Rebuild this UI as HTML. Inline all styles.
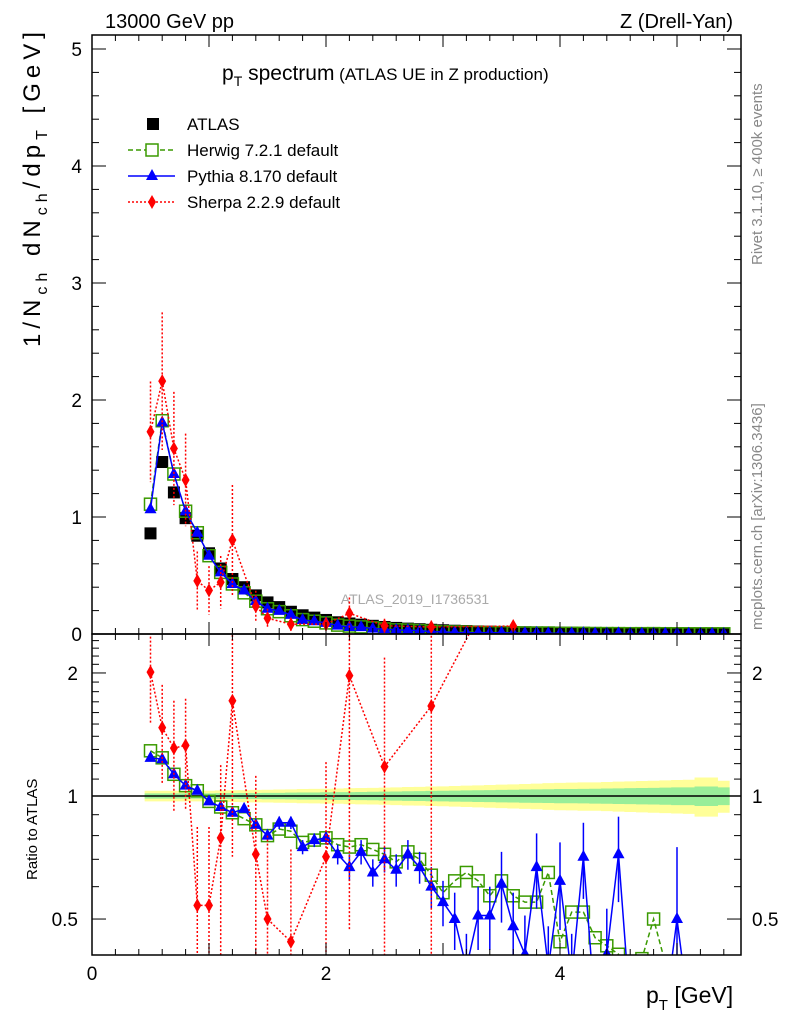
<!DOCTYPE html>
<html><head><meta charset="utf-8"><style>
html,body{margin:0;padding:0;background:#fff;overflow:hidden;width:786px;height:1024px}
svg{display:block;font-family:"Liberation Sans",Arial,sans-serif}
</style></head><body>
<svg id="c" width="786" height="1024" viewBox="0 0 786 1024">
<text x="105" y="28" font-size="20">13000 GeV pp</text>
<text x="733" y="28" font-size="20" text-anchor="end">Z (Drell-Yan)</text>
<text x="222" y="80" font-size="21">p<tspan font-size="14" dy="6">T</tspan><tspan dy="-6"> spectrum</tspan><tspan font-size="17"> (ATLAS UE in Z production)</tspan></text>
<text transform="translate(762,265) rotate(-90)" font-size="15" fill="#888">Rivet 3.1.10, ≥ 400k events</text>
<text transform="translate(762,630) rotate(-90)" font-size="15" fill="#888">mcplots.cern.ch [arXiv:1306.3436]</text>
<text transform="translate(40,347) rotate(-90)" font-size="24" textLength="315" lengthAdjust="spacing">1/N<tspan font-size="16" dy="7">ch</tspan><tspan dy="-7"> dN</tspan><tspan font-size="16" dy="7">ch</tspan><tspan dy="-7">/dp</tspan><tspan font-size="16" dy="7">T</tspan><tspan dy="-7"> [GeV]</tspan></text>
<text transform="translate(37,880) rotate(-90)" font-size="15">Ratio to ATLAS</text>
<text x="646" y="1003" font-size="23">p<tspan font-size="15" dy="7">T</tspan><tspan dy="-7"> [GeV]</tspan></text>
<text x="415" y="604" font-size="14" fill="#aaa" text-anchor="middle">ATLAS_2019_I1736531</text>
<g id="legend">
<rect x="147" y="118" width="12" height="12" fill="#000"/>
<text x="187" y="130" font-size="17">ATLAS</text>
<line x1="128" y1="150" x2="175" y2="150" stroke="#3a9a00" stroke-width="1.5" stroke-dasharray="5,3"/>
<rect x="146" y="144" width="12" height="12" fill="#fff" stroke="#3a9a00" stroke-width="1.5"/>
<text x="187" y="156" font-size="17">Herwig 7.2.1 default</text>
<line x1="128" y1="176" x2="175" y2="176" stroke="#00f" stroke-width="1.5"/>
<polygon points="152,169 158,180 146,180" fill="#00f"/>
<text x="187" y="182" font-size="17">Pythia 8.170 default</text>
<line x1="128" y1="202" x2="175" y2="202" stroke="#f00" stroke-width="1.5" stroke-dasharray="2,2"/>
<polygon points="152,195 156,202 152,209 148,202" fill="#f00"/>
<text x="187" y="208" font-size="17">Sherpa 2.2.9 default</text>
</g>
<g id="plot"></g>
</svg>
<script>
const xCenters=[0.5,0.6,0.7,0.8,0.9,1.0,1.1,1.2,1.3,1.4,1.5,1.6,1.7,1.8,1.9,2.0,2.1,2.2,2.3,2.4,2.5,2.6,2.7,2.8,2.9,3.0,3.1,3.2,3.3,3.4,3.5,3.6,3.7,3.8,3.9,4.0,4.1,4.2,4.3,4.4,4.5,4.6,4.7,4.8,4.9,5.0,5.1,5.2,5.3,5.4];
const atlasVals=[0.86,1.47,1.21,0.99,0.84,0.69,0.56,0.47,0.40,0.33,0.27,0.23,0.19,0.16,0.14,0.12,0.10,0.09,0.08,0.07,0.06,0.052,0.046,0.041,0.036,0.032,0.028,0.025,0.022,0.02,0.018,0.017,0.015,0.014,0.013,0.012,0.011,0.01,0.009,0.0085,0.008,0.0075,0.007,0.0065,0.006,0.0058,0.0055,0.0052,0.005,0.0048];
const herwigRatio=[1.29,1.24,1.13,1.06,1.03,0.97,0.94,0.91,0.88,0.85,0.80,0.83,0.82,0.77,0.78,0.79,0.76,0.75,0.76,0.74,0.72,0.69,0.73,0.70,0.64,0.58,0.62,0.65,0.62,0.57,0.62,0.57,0.55,0.55,0.65,0.44,0.52,0.52,0.45,0.43,0.41,0.35,0.40,0.50,0.39,0.3,0.3,0.3,0.3,0.3];
const pythiaRatio=[1.24,1.23,1.13,1.06,1.03,0.97,0.94,0.91,0.93,0.85,0.80,0.86,0.86,0.75,0.78,0.79,0.72,0.67,0.73,0.65,0.70,0.66,0.72,0.67,0.60,0.55,0.50,0.38,0.51,0.51,0.61,0.48,0.41,0.67,0.38,0.62,0.36,0.71,0.3,0.41,0.72,0.3,0.3,0.3,0.3,0.50,0.3,0.3,0.3,0.3];
const pythiaErr=[0.01,0.01,0.01,0.01,0.01,0.01,0.01,0.01,0.02,0.02,0.02,0.03,0.03,0.03,0.03,0.03,0.04,0.05,0.05,0.05,0.05,0.06,0.06,0.06,0.07,0.07,0.08,0.08,0.09,0.09,0.12,0.1,0.1,0.14,0.1,0.15,0.1,0.15,0.1,0.12,0.17,0.1,0.1,0.1,0.1,0.25,0.1,0.1,0.1,0.1];
const sherpaRatio=[2.01,1.47,1.31,1.33,0.54,0.54,0.79,1.71,null,0.72,0.50,null,0.44,null,null,0.71,null,1.97,null,null,1.18,null,null,null,1.66,null,null,null,null,null,null,4.0,null,null,null,null,null,null,null,null,null,null,null,null,null,null,null,null,null,null];
const sherpaErr=[0.5,0.4,0.4,0.4,0.3,0.3,0.4,1.0,0,0.4,0.3,0,0.3,0,0,0.5,0,1.5,0,0,1.0,0,0,0,1.5,0,0,0,0,0,0,1.5,0,0,0,0,0,0,0,0,0,0,0,0,0,0,0,0,0,0];
const bandInner=[0.015,0.015,0.015,0.015,0.015,0.015,0.016,0.016,0.017,0.017,0.018,0.018,0.019,0.02,0.02,0.021,0.022,0.022,0.023,0.024,0.025,0.026,0.027,0.028,0.029,0.03,0.031,0.032,0.033,0.034,0.035,0.036,0.037,0.038,0.039,0.04,0.04,0.041,0.042,0.043,0.044,0.045,0.046,0.047,0.048,0.05,0.05,0.055,0.055,0.05];
const bandOuter=[0.03,0.03,0.03,0.03,0.03,0.03,0.032,0.033,0.034,0.035,0.036,0.037,0.038,0.04,0.041,0.042,0.043,0.045,0.046,0.047,0.048,0.05,0.052,0.053,0.055,0.056,0.058,0.06,0.062,0.064,0.066,0.068,0.07,0.072,0.075,0.077,0.078,0.08,0.08,0.082,0.084,0.086,0.088,0.09,0.092,0.094,0.096,0.11,0.11,0.09];
const xTickLabels=["0","2","4"];
const topTickLabels=["0","1","2","3","4","5"];
const ratioTickLabels=["0.5","1","2"];

const NS="http://www.w3.org/2000/svg";
const L=92,R=741,T1=35,B1=634,B2=955;
const X=x=>L+117*x;
const YT=v=>B1-117*v;
const YR=r=>796-177.5*Math.log(r);
const g=document.getElementById('plot');
function mk(tag,attrs,parent){const e=document.createElementNS(NS,tag);for(const k in attrs)e.setAttribute(k,attrs[k]);(parent||g).appendChild(e);return e;}
function clip(id,y1,y2){const d=mk('clipPath',{id:id});mk('rect',{x:L,y:y1,width:R-L,height:y2-y1},d);}
clip('ct',T1,B1);clip('cr',B1,B2);
const gt=mk('g',{'clip-path':'url(#ct)'});


const gr=mk('g',{'clip-path':'url(#cr)'});



function bandPath(arr){let up='',dn='';xCenters.forEach((x,i)=>{const x0=X(x-0.05),x1=X(x+0.05);up+=(i?'L':'M')+x0+','+YR(1+arr[i])+'L'+x1+','+YR(1+arr[i]);});for(let i=xCenters.length-1;i>=0;i--){const x0=X(xCenters[i]-0.05),x1=X(xCenters[i]+0.05);dn+='L'+x1+','+YR(1-arr[i])+'L'+x0+','+YR(1-arr[i]);}return up+dn+'Z';}
const bo=mk('path',{d:bandPath(bandOuter),fill:'#ffff99'},gr);


const bi=mk('path',{d:bandPath(bandInner),fill:'#99ee99'},gr);


mk('line',{x1:L,x2:R,y1:796,y2:796,stroke:'#000','stroke-width':1.5},gr);

function series(vals,yf,parent,color,dash,name){
  let d='',started=false;
  vals.forEach((v,i)=>{if(v==null){return;}d+=(started?'L':'M')+X(xCenters[i])+','+yf(v,i);started=true;});
  const p=mk('path',{d:d,fill:'none',stroke:color,'stroke-width':1.5,'stroke-dasharray':dash||'none'},parent);
  
  
}
function errbar(x,y1,y2,color,dash,parent,name){
  const l=mk('line',{x1:X(x),x2:X(x),y1:y1,y2:y2,stroke:color,'stroke-width':1.5,'stroke-dasharray':dash||'none'},parent);
  
  
}
function marker(type,x,y,parent,name){
  let e;
  if(type==='sq')e=mk('rect',{x:x-6,y:y-6,width:12,height:12,fill:'#000'},parent);
  if(type==='osq')e=mk('rect',{x:x-6,y:y-6,width:12,height:12,fill:'none',stroke:'#3a9a00','stroke-width':1.5},parent);
  if(type==='tri')e=mk('polygon',{points:`${x},${y-7} ${x+6},${y+4} ${x-6},${y+4}`,fill:'#00f'},parent);
  if(type==='dia')e=mk('polygon',{points:`${x},${y-7} ${x+4},${y} ${x},${y+7} ${x-4},${y}`,fill:'#f00'},parent);
  
  
}
xCenters.forEach((x,i)=>{marker('sq',X(x),YT(atlasVals[i]),gt,'atlas-point');});
series(herwigRatio,(v,i)=>YT(v*atlasVals[i]),gt,'#3a9a00','5,3','herwig');
xCenters.forEach((x,i)=>{marker('osq',X(x),YT(herwigRatio[i]*atlasVals[i]),gt,'herwig-point');});
series(pythiaRatio,(v,i)=>YT(v*atlasVals[i]),gt,'#00f',null,'pythia');
xCenters.forEach((x,i)=>{marker('tri',X(x),YT(pythiaRatio[i]*atlasVals[i]),gt,'pythia-point');});
series(sherpaRatio,(v,i)=>YT(v*atlasVals[i]),gt,'#f00','2,2','sherpa');
xCenters.forEach((x,i)=>{const v=sherpaRatio[i];if(v==null)return;const a=atlasVals[i];
  errbar(x,YT((v+sherpaErr[i])*a),YT(Math.max(v-sherpaErr[i],0)*a),'#f00','2,2',gt,'sherpa-error-bar');
  marker('dia',X(x),YT(v*a),gt,'sherpa-point');});
series(herwigRatio,v=>YR(v),gr,'#3a9a00','5,3','herwig-ratio');
xCenters.forEach((x,i)=>{marker('osq',X(x),YR(herwigRatio[i]),gr,'herwig-ratio-point');});
series(pythiaRatio,v=>YR(v),gr,'#00f',null,'pythia-ratio');
xCenters.forEach((x,i)=>{const v=pythiaRatio[i],e=pythiaErr[i];
  errbar(x,YR(v+e),YR(Math.max(v-e,0.01)),'#00f',null,gr,'pythia-ratio-error-bar');
  marker('tri',X(x),YR(v),gr,'pythia-ratio-point');});
series(sherpaRatio,v=>YR(v),gr,'#f00','2,2','sherpa-ratio');
xCenters.forEach((x,i)=>{const v=sherpaRatio[i];if(v==null)return;
  errbar(x,YR(v+sherpaErr[i]),YR(Math.max(v-sherpaErr[i],0.01)),'#f00','2,2',gr,'sherpa-ratio-error-bar');
  marker('dia',X(x),YR(v),gr,'sherpa-ratio-point');});

mk('rect',{x:L,y:T1,width:R-L,height:B1-T1,fill:'none',stroke:'#000','stroke-width':1.5});
mk('rect',{x:L,y:B1,width:R-L,height:B2-B1,fill:'none',stroke:'#000','stroke-width':1.5});
for(let k=0;k<=27;k++){const x=k*0.2;if(x>5.55)break;const maj=k%5===0;const len=maj?12:6;const px=X(x);
  [[B1,-1],[B2,-1],[T1,1],[B1,1]].forEach(([y,s])=>mk('line',{x1:px,x2:px,y1:y,y2:y+s*len,stroke:'#000','stroke-width':1}));}
xTickLabels.forEach(t=>{const e=mk('text',{x:X(+t),y:980,'font-size':19,'text-anchor':'middle'});e.textContent=t;
  
  });
for(let k=0;k<=25;k++){const v=k*0.2;const maj=k%5===0;const len=maj?14:7;const py=YT(v);
  mk('line',{x1:L,x2:L+len,y1:py,y2:py,stroke:'#000'});mk('line',{x1:R,x2:R-len,y1:py,y2:py,stroke:'#000'});}
topTickLabels.forEach(t=>{const e=mk('text',{x:82,y:YT(+t)+7,'font-size':19,'text-anchor':'end'});e.textContent=t;
  
  });
for(let k=4;k<=24;k++){const v=k/10;const py=YR(v);if(py<B1||py>B2)continue;const maj=(v===0.5||v===1||v===2);const len=maj?14:7;
  mk('line',{x1:L,x2:L+len,y1:py,y2:py,stroke:'#000'});mk('line',{x1:R,x2:R-len,y1:py,y2:py,stroke:'#000'});}
ratioTickLabels.forEach(t=>{const py=YR(+t)+7;
  const a=mk('text',{x:78,y:py,'font-size':19,'text-anchor':'end'});a.textContent=t;
  
  
  const b=mk('text',{x:752,y:py,'font-size':19});b.textContent=t;
  
  });
</script>
</body></html>
